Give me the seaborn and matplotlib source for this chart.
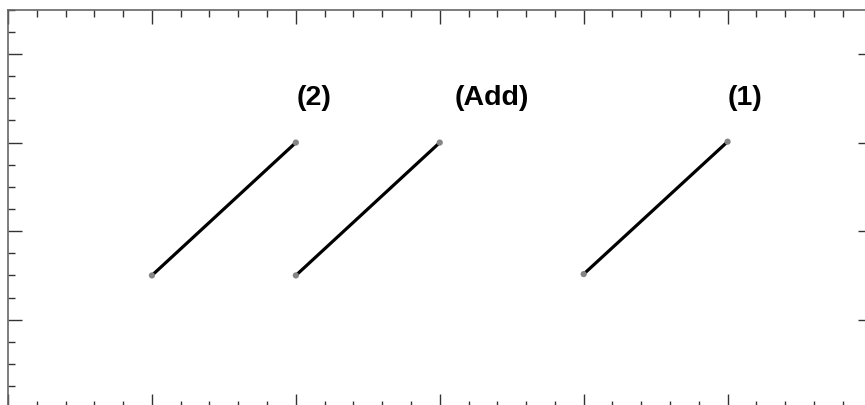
import matplotlib
matplotlib.use("Agg")
import matplotlib.pyplot as plt
import numpy as np
import pandas as pd
import seaborn as sns
from matplotlib.ticker import MultipleLocator, NullFormatter

sns.set_theme(style="white")
plt.rcParams["font.family"] = ["Liberation Sans", "DejaVu Sans"]

# segment endpoints
segment_names = ["(2)", "(Add)", "(1)"]
x_start = [1.0, 2.0, 4.0]
x_end = [2.0, 3.0, 5.0]
y_start = [1.5, 1.5, 1.515]
y_end = [3.0, 3.0, 3.01]

# label anchor points
label_x = [2.13, 3.36, 5.12]
label_y = [3.52, 3.52, 3.52]

rows = []
for name, xa, xb, ya, yb in zip(segment_names, x_start, x_end, y_start, y_end):
    rows.append({"segment": name, "x": xa, "y": ya})
    rows.append({"segment": name, "x": xb, "y": yb})
df = pd.DataFrame(rows)

fig = plt.figure(figsize=(8.65, 4.06), dpi=100)
ax = fig.add_axes([8 / 865, -3.3 / 406, 863.5 / 865, 398.6 / 406])

sns.lineplot(data=df, x="x", y="y", units="segment", estimator=None,
             color="black", linewidth=2.3, ax=ax, legend=False, sort=False)
sns.scatterplot(data=df, x="x", y="y", color="#858585", s=20,
                edgecolor="none", ax=ax, legend=False, zorder=3)

for name, lx, ly in zip(segment_names, label_x, label_y):
    ax.text(lx, ly, name, ha="center", va="center", fontsize=20.5,
            fontweight="bold", color="black")

ax.set_xlim(0, 6)
ax.set_ylim(0, 4.5)
ax.xaxis.set_major_locator(MultipleLocator(1))
ax.xaxis.set_minor_locator(MultipleLocator(0.2))
ax.yaxis.set_major_locator(MultipleLocator(1))
ax.yaxis.set_minor_locator(MultipleLocator(0.25))
ax.xaxis.set_major_formatter(NullFormatter())
ax.yaxis.set_major_formatter(NullFormatter())
ax.set_xlabel("")
ax.set_ylabel("")

ax.tick_params(which="both", direction="in", top=True, bottom=True,
               left=True, right=True, color="#333333", width=1.0)
ax.tick_params(which="major", length=10)
ax.tick_params(which="minor", length=4.7)

for sp in ax.spines.values():
    sp.set_color("#666666")
    sp.set_linewidth(1.2)
    sp.set_visible(True)

fig.savefig("out.png", dpi=100)
